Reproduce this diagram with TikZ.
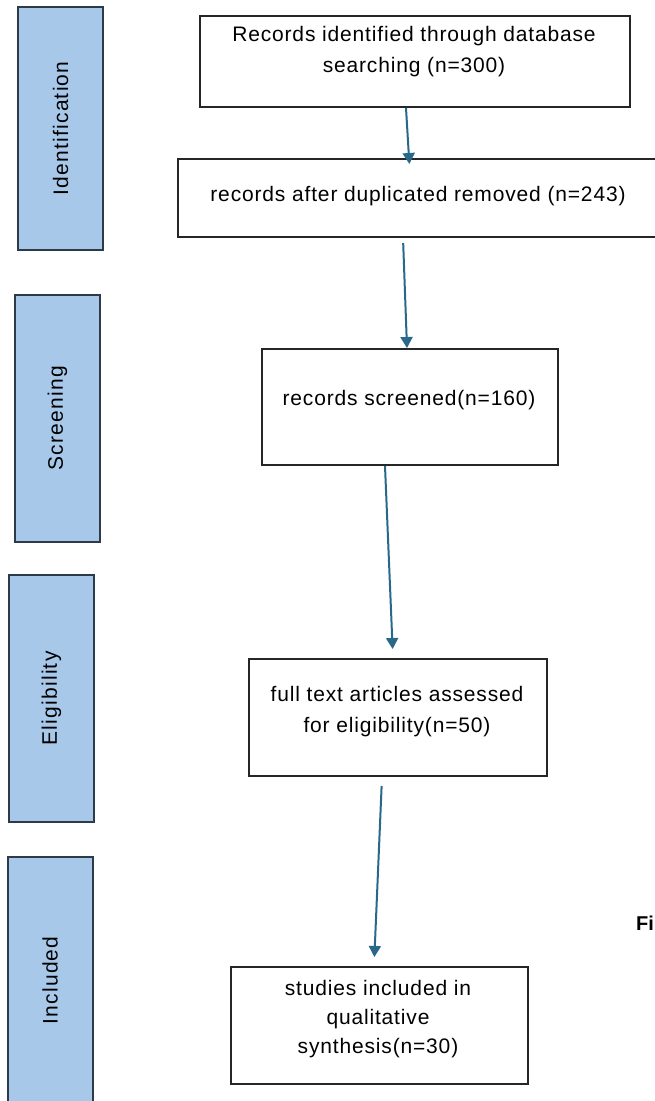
\documentclass[tikz,border=0pt]{standalone}
\usepackage{fontspec}
\setmainfont{Liberation Sans}
\usepackage{tikz}
\usetikzlibrary{arrows.meta}
\definecolor{sideblue}{RGB}{168,200,234}
\definecolor{sideedge}{RGB}{44,58,74}
\definecolor{flowblue}{RGB}{40,104,138}

\tikzset{
  side/.style={draw=sideedge, fill=sideblue, line width=2pt, minimum width=85pt, inner sep=0pt},
  sidetext/.style={rotate=90, font=\fontsize{21}{25}\selectfont\addfontfeature{LetterSpace=6}},
  box/.style={draw=black!85, line width=2pt, inner sep=0pt},
  boxtext/.style={align=center, font=\fontsize{21}{31}\selectfont\addfontfeature{LetterSpace=4}},
  flow/.style={flowblue, line width=2pt, -{Triangle[width=12pt,length=11pt]}}
}

\begin{document}
\begin{tikzpicture}[x=1pt,y=-1pt]
\useasboundingbox (0,0) rectangle (655,1101);
\clip (0,0) rectangle (655,1101);
\fill[white] (0,0) rectangle (655,1101);

% phases
\node[side, minimum height=243pt] (ident) at (60.5,128.5) {};
\node[sidetext] (identlab) at (ident.center) {Identification};
\node[side, minimum height=247pt] (screen) at (57.5,418.5) {};
\node[sidetext] (screenlab) at (screen.center) {Screening};
\node[side, minimum height=247pt] (elig) at (51.5,698.5) {};
\node[sidetext] (eliglab) at (elig.center) {Eligibility};
\node[side, minimum height=247pt] (incl) at (50,980.5) {};
\node[sidetext] (incllab) at (incl.center) {Included};

% boxes
\node[box, minimum width=430pt, minimum height=91pt] (b1) at (415,61.5) {};
\node[boxtext] (t1) at (414,51.5) {Records identified through database\\searching (n=300)};
\node[box, minimum width=480pt, minimum height=78pt] (b2) at (418,198) {};
\node[boxtext] (t2) at (418,196) {records after duplicated removed (n=243)};
\node[box, minimum width=296pt, minimum height=116pt] (b3) at (410,407) {};
\node[boxtext] (t3) at (409,400) {records screened(n=160)};
\node[box, minimum width=298pt, minimum height=117pt] (b4) at (398,717.5) {};
\node[boxtext] (t4) at (397,712) {full text articles assessed\\for eligibility(n=50)};
\node[box, minimum width=297pt, minimum height=117pt] (b5) at (379.5,1025.5) {};
\node[boxtext, font=\fontsize{21}{29}\selectfont\addfontfeature{LetterSpace=4}] (t5) at (378,1019) {studies included in\\qualitative\\synthesis(n=30)};

\node[anchor=base west, inner sep=0pt, font=\bfseries\fontsize{20}{24}\selectfont] (fig) at (636,930) {Fi};

% arrows
\draw[flow, shorten >=-6pt] ([xshift=-9pt]b1.south) -- ([xshift=-9pt]b2.north);
\draw[flow, shorten <=5pt] ([xshift=-15pt]b2.south) -- ([xshift=-3pt]b3.north);
\draw[flow, shorten >=9pt] ([xshift=-25pt]b3.south) -- ([xshift=-5pt]b4.north);
\draw[flow, shorten <=9pt, shorten >=9pt] ([xshift=-16pt]b4.south) -- ([xshift=-5.5pt]b5.north);

\end{tikzpicture}
\end{document}
